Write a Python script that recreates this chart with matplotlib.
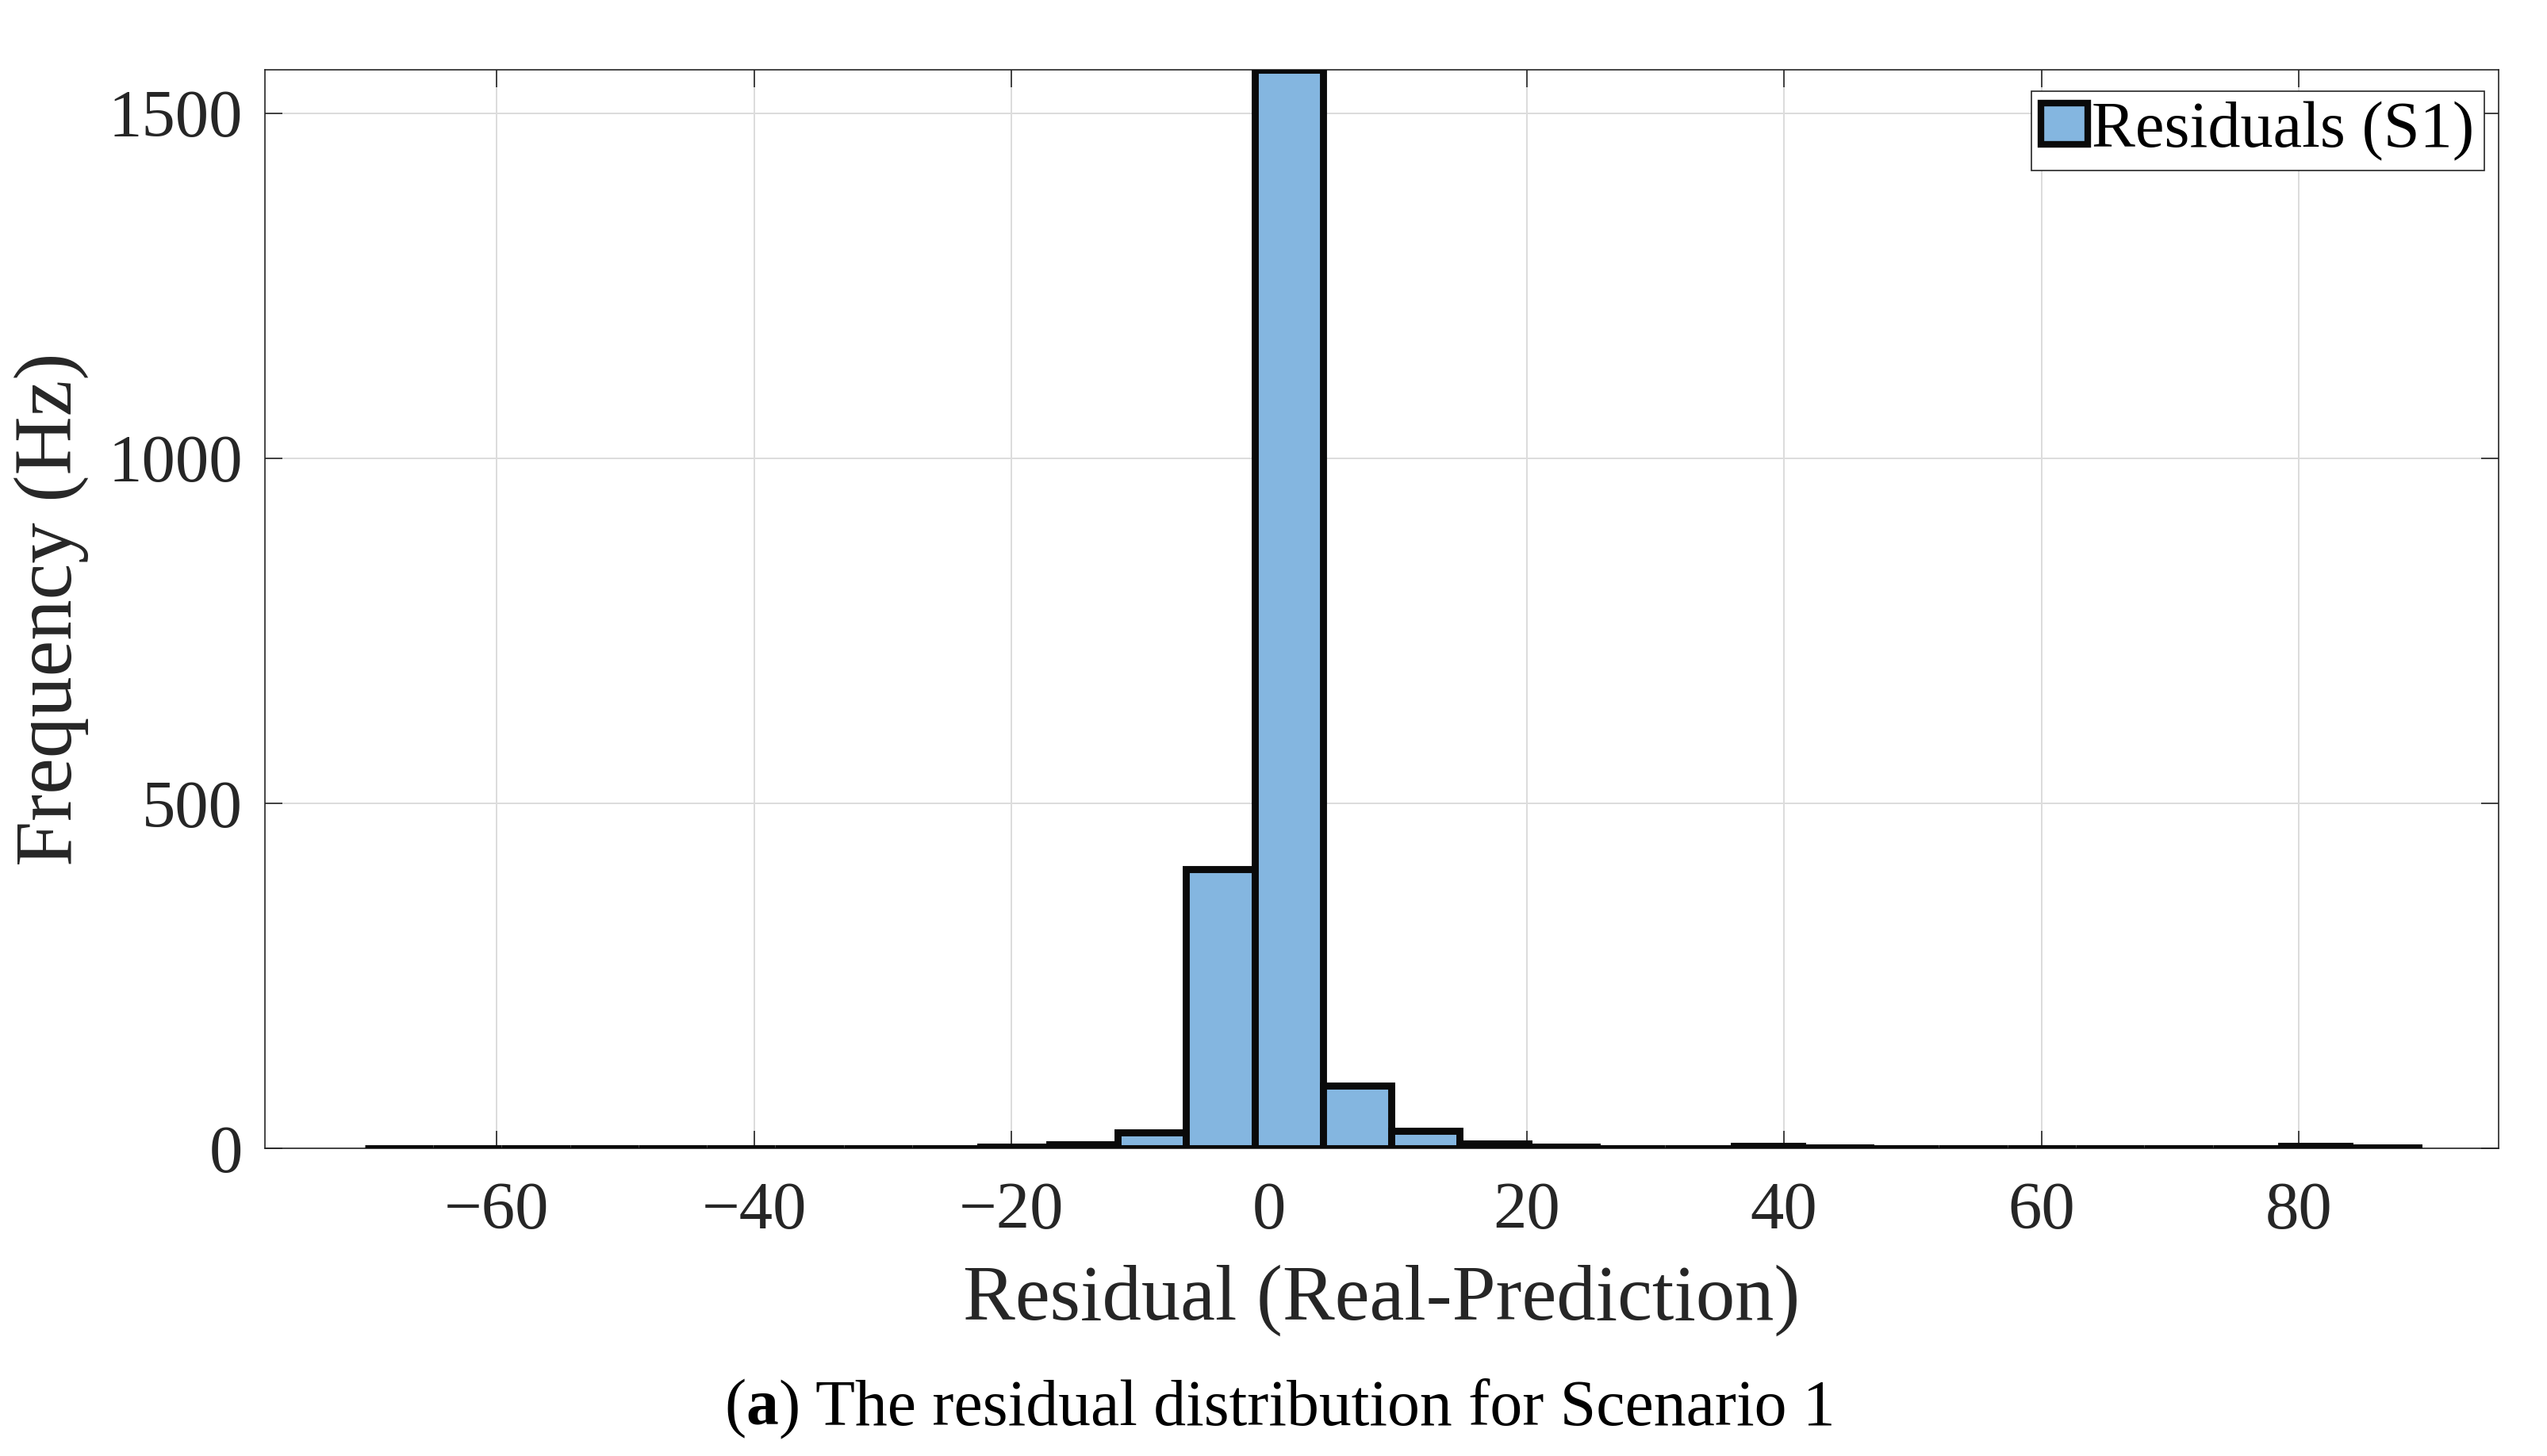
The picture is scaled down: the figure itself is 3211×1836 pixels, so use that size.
import numpy as np
import matplotlib.pyplot as plt
from matplotlib.patches import Patch

# histogram of residuals, 30 bins
bin_edges = np.linspace(-70.25, 89.25, 31)
counts = [0, 0, 0, 0, 0, 0, 0, 0, 0, 2,
          6, 23, 405, 1563, 91, 25, 7, 2, 0, 0,
          3, 1, 0, 0, 0, 0, 0, 0, 3, 1]
x_ticks = [-60, -40, -20, 0, 20, 40, 60, 80]
y_ticks = [0, 500, 1000, 1500]

series_label = "Residuals (S1)"
x_label = "Residual (Real-Prediction)"
y_label = "Frequency (Hz)"
caption = ") The residual distribution for Scenario 1"

FACE = "#84b6e0"
EDGE = "#0a0a0a"
AXC = "#262626"

def main():
    plt.rcParams['font.family'] = ['Liberation Serif', 'DejaVu Serif']
    plt.rcParams['axes.unicode_minus'] = True

    fig = plt.figure(figsize=(16.055, 9.18), dpi=200)
    ax = fig.add_axes([0.104, 0.2113, 0.877, 0.7407])

    widths = np.diff(bin_edges)
    ax.bar(bin_edges[:-1], counts, width=widths, align='edge',
           color=FACE, edgecolor=EDGE, linewidth=3.2, zorder=3)

    ax.set_xlim(-78, 95.5)
    ax.set_ylim(0, 1563)
    ax.set_xticks(x_ticks)
    ax.set_yticks(y_ticks)
    ax.grid(True, color="#dcdcdc", linewidth=0.7, zorder=0)
    ax.set_axisbelow(True)

    for sp in ax.spines.values():
        sp.set_color(AXC)
        sp.set_linewidth(0.6)
    ax.tick_params(direction='in', length=8, width=0.6, color=AXC,
                   top=True, right=True, labelsize=30.5, labelcolor=AXC)
    ax.tick_params(axis='x', pad=15)
    ax.tick_params(axis='y', pad=10)

    ax.set_xlabel(x_label, fontsize=35.5, color=AXC, labelpad=10)
    ax.set_ylabel(y_label, fontsize=37, color=AXC, labelpad=9)

    handle = Patch(facecolor=FACE, edgecolor=EDGE, linewidth=3.0)
    leg = ax.legend([handle], [series_label], loc='upper right',
                    bbox_to_anchor=(0.9936, 0.980), borderaxespad=0,
                    fontsize=29.6, frameon=True, fancybox=False, framealpha=1,
                    edgecolor=AXC, borderpad=0.15, handletextpad=0.06,
                    handlelength=0.72, handleheight=0.6)
    leg.get_frame().set_linewidth(0.6)

    # caption with bold panel letter
    y0 = 0.0218
    fs = 29.4
    t1 = fig.text(0.2845, y0, "(", fontsize=fs, va='baseline')
    fig.canvas.draw()
    r = fig.canvas.get_renderer()
    x = t1.get_window_extent(r).x1
    t2 = fig.text(x / fig.bbox.width, y0, "a", fontsize=fs,
                  fontweight='bold', va='baseline')
    x = t2.get_window_extent(r).x1
    fig.text(x / fig.bbox.width, y0, caption, fontsize=fs, va='baseline')

    fig.savefig("out.png", dpi=200)

if __name__ == '__main__':
    main()
